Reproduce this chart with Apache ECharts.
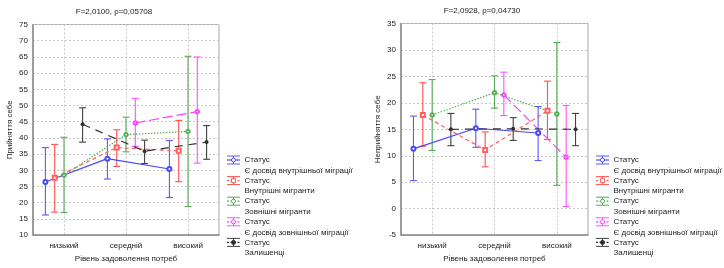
<!DOCTYPE html>
<html>
<head>
<meta charset="utf-8">
<script src="https://cdn.jsdelivr.net/npm/echarts@6/dist/echarts.min.js"></script>
<style>
html,body{margin:0;padding:0;background:#fff;}
#c{width:724px;height:268px;}
</style>
</head>
<body>
<div id="c"></div>
<script>
// ---------- DATA ----------
const categories = ['низький', 'середній', 'високий'];
const statusLabel = 'Статус';
const groupNames = ['Є досвід внутрішньої міграції', 'Внутрішні мігранти', 'Зовнішні мігранти', 'Є досвід зовнішньої міграції', 'Залишенці'];
const titles = ['F=2,0100, p=0,05708', 'F=2,0928, p=0,04730'];
const yNames = ['Прийняття себе', 'Неприйняття себе'];
const xName = 'Рівень задоволення потреб';
const yTicksAcc = [10, 15, 20, 25, 30, 35, 40, 45, 50, 55, 60, 65, 70, 75];
const yTicksNon = [-5, 0, 5, 10, 15, 20, 25, 30, 35];

// Прийняття себе: means, lower and upper bounds (rows = groups, cols = categories)
const accMean = [
  [26.4, 33.6, 30.4],
  [27.7, 37.0, 36.0],
  [28.5, 41.0, 42.0],
  [null, 44.6, 48.1],
  [44.2, 35.9, 38.7]
];
const accLow = [
  [16.2, 27.3, 21.6],
  [17.1, 31.2, 26.5],
  [17.0, 35.7, 18.8],
  [null, 37.4, 32.2],
  [38.7, 32.1, 33.4]
];
const accHigh = [
  [37.0, 39.7, 39.2],
  [38.0, 42.5, 45.4],
  [40.2, 46.4, 65.2],
  [null, 52.2, 65.0],
  [49.3, 39.3, 43.8]
];
// Неприйняття себе
const nonMean = [
  [11.3, 15.2, 14.3],
  [17.7, 11.1, 18.5],
  [17.7, 21.9, 17.9],
  [null, 21.5, 9.7],
  [15.0, 15.1, 15.0]
];
const nonLow = [
  [5.3, 11.6, 9.1],
  [11.8, 7.9, 13.1],
  [11.0, 19.0, 4.4],
  [null, 17.6, 0.4],
  [11.9, 12.9, 11.9]
];
const nonHigh = [
  [17.5, 18.8, 19.3],
  [23.8, 14.5, 24.1],
  [24.4, 25.1, 31.4],
  [null, 25.8, 19.5],
  [18.0, 17.2, 18.0]
];

// ---------- STYLE ----------
const FONT = "'Liberation Sans', Arial, sans-serif";
const FS = 8;
const TXT = '#222';
const offsets = [-0.3, -0.15, 0, 0.15, 0.3];
const styles = [
  {color: '#4848ff', bar: '#5a5aff', dash: 'solid', symbol: 'emptyCircle', size: 4},
  {color: '#ff6060', bar: '#ff5050', dash: [4, 3], symbol: 'emptyRect', size: 4},
  {color: '#55b055', bar: '#55aa55', dash: [1.5, 1.5], symbol: 'emptyCircle', size: 3.5},
  {color: '#ff40ff', bar: '#ff50ff', dash: [10, 4], symbol: 'emptyCircle', size: 3.5},
  {color: '#303030', bar: '#404040', dash: [8, 6], symbol: 'circle', size: 4}
];

const grids = [
  {left: 33, top: 24.5, width: 186, height: 212.5},
  {left: 401, top: 23.5, width: 187, height: 214}
];

function xAxisFor(gi) {
  return {
    gridIndex: gi, type: 'value', min: 0, max: categories.length, interval: 0.5,
    name: xName, nameLocation: 'middle', nameGap: 19,
    nameTextStyle: {fontFamily: FONT, fontSize: FS, color: TXT},
    axisLine: {show: true, onZero: false, lineStyle: {color: '#8a8a8a', width: 1.5}},
    axisTick: {show: false},
    axisLabel: {
      fontFamily: FONT, fontSize: FS, color: TXT, margin: 7,
      formatter: v => (Math.abs(v % 1 - 0.5) < 1e-6 ? categories[Math.floor(v)] : '')
    },
    splitLine: {show: true, lineStyle: {color: ['rgba(0,0,0,0)', '#c8c8c8'], type: [2, 2], width: 1}}
  };
}
function yAxisFor(gi, ticks, nm) {
  return {
    gridIndex: gi, type: 'value', min: ticks[0], max: ticks[ticks.length - 1], interval: ticks[1] - ticks[0],
    name: nm, nameLocation: 'middle', nameGap: 19,
    nameTextStyle: {fontFamily: FONT, fontSize: FS, color: TXT},
    axisLine: {show: true, onZero: false, lineStyle: {color: '#8a8a8a', width: 1.5}},
    axisTick: {show: false},
    axisLabel: {fontFamily: FONT, fontSize: FS, color: TXT, margin: 5},
    splitLine: {show: true, lineStyle: {color: '#c8c8c8', type: [2, 2], width: 1}}
  };
}

function makeSeries(gi, means, lows, highs) {
  const out = [];
  for (let g = 0; g < groupNames.length; g++) {
    const st = styles[g];
    const errData = [];
    for (let c = 0; c < categories.length; c++) {
      if (means[g][c] != null) errData.push([c + 0.5 + offsets[g], lows[g][c], highs[g][c]]);
    }
    out.push({
      type: 'custom', name: groupNames[g] + '-err', xAxisIndex: gi, yAxisIndex: gi,
      encode: {x: 0, y: [1, 2]}, data: errData, z: 2, silent: true,
      renderItem: (params, api) => {
        const x = api.value(0);
        const pLo = api.coord([x, api.value(1)]);
        const pHi = api.coord([x, api.value(2)]);
        const cw = 3.5;
        const s = {stroke: st.bar, lineWidth: 1.1};
        return {type: 'group', children: [
          {type: 'line', shape: {x1: pLo[0], y1: pLo[1], x2: pHi[0], y2: pHi[1]}, style: s},
          {type: 'line', shape: {x1: pHi[0] - cw, y1: pHi[1], x2: pHi[0] + cw, y2: pHi[1]}, style: s},
          {type: 'line', shape: {x1: pLo[0] - cw, y1: pLo[1], x2: pLo[0] + cw, y2: pLo[1]}, style: s}
        ]};
      }
    });
    out.push({
      type: 'line', name: groupNames[g], xAxisIndex: gi, yAxisIndex: gi, z: 3,
      data: categories.map((c, i) => [i + 0.5 + offsets[g], means[g][i] == null ? '-' : means[g][i]]),
      symbol: st.symbol, symbolSize: st.size, showSymbol: true,
      lineStyle: {color: st.color, width: 1.2, type: st.dash},
      itemStyle: {color: st.color, borderWidth: 1},
      connectNulls: false, animation: false, silent: true
    });
  }
  return out;
}

// legend drawn as graphic
function legendGraphic(x0, y0) {
  const els = [];
  groupNames.forEach((nm, g) => {
    const st = styles[g];
    const y = y0 + g * 20.6;
    const w = 13;
    const children = [
      {type: 'line', shape: {x1: 0, y1: -4, x2: w, y2: -4}, style: {stroke: st.bar, lineWidth: 1}},
      {type: 'line', shape: {x1: 0, y1: 4, x2: w, y2: 4}, style: {stroke: st.bar, lineWidth: 1}},
      {type: 'line', shape: {x1: w / 2, y1: -4, x2: w / 2, y2: 4}, style: {stroke: st.bar, lineWidth: 1}},
      {type: 'line', shape: {x1: 0, y1: 0, x2: w, y2: 0}, style: {stroke: st.color, lineWidth: 1.2, lineDash: st.dash === 'solid' ? null : [2, 1.5]}},
      st.symbol === 'emptyRect'
        ? {type: 'rect', shape: {x: w / 2 - 2, y: -2, width: 4, height: 4}, style: {fill: '#fff', stroke: st.color, lineWidth: 1}}
        : {type: 'circle', shape: {cx: w / 2, cy: 0, r: 2}, style: {fill: st.symbol === 'circle' ? st.color : '#fff', stroke: st.color, lineWidth: 1}},
      {type: 'text', x: 17.5, y: 0, style: {text: statusLabel, fontFamily: FONT, fontSize: FS, fill: TXT, verticalAlign: 'middle'}},
      {type: 'text', x: 17.5, y: 10.6, style: {text: nm, fontFamily: FONT, fontSize: FS, fill: TXT, verticalAlign: 'middle'}}
    ];
    els.push({type: 'group', x: x0, y: y, children: children});
  });
  return els;
}

const chart = echarts.init(document.getElementById('c'), null, {renderer: 'canvas'});
const option = {
  animation: false,
  backgroundColor: '#fff',
  grid: grids.map(g => Object.assign({show: true, borderColor: '#a8a8a8', borderWidth: 1, backgroundColor: 'transparent'}, g)),
  xAxis: [xAxisFor(0), xAxisFor(1)],
  yAxis: [yAxisFor(0, yTicksAcc, yNames[0]), yAxisFor(1, yTicksNon, yNames[1])],
  series: makeSeries(0, accMean, accLow, accHigh).concat(makeSeries(1, nonMean, nonLow, nonHigh)),
  graphic: [
    {type: 'text', x: 114, y: 12, style: {text: titles[0], fontFamily: FONT, fontSize: FS, fill: TXT, align: 'center', verticalAlign: 'middle'}},
    {type: 'text', x: 482, y: 11, style: {text: titles[1], fontFamily: FONT, fontSize: FS, fill: TXT, align: 'center', verticalAlign: 'middle'}}
  ].concat(legendGraphic(227, 160)).concat(legendGraphic(596, 160))
};
chart.setOption(option);
</script>
</body>
</html>
